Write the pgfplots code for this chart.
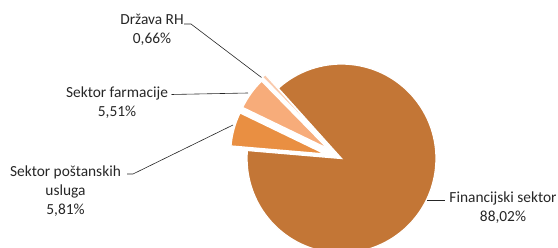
\documentclass[border=0pt]{standalone}
\usepackage{pgfplots}
\usepackage{pgfplotstable}
\pgfplotsset{compat=1.18}
\usepackage{fontspec}
\setmainfont{Carlito}

\definecolor{pc0}{HTML}{C37636}
\definecolor{pc1}{HTML}{E98F42}
\definecolor{pc2}{HTML}{F7AC7A}
\definecolor{pc3}{HTML}{F9CAAC}

% share (%) and explosion offset (px) of each slice, clockwise from the first
\pgfplotstableread[col sep=comma]{
label,value,explode
Financijski sektor,88.02,0
Sektor poštanskih usluga,5.81,17
Sektor farmacije,5.51,17
Država RH,0.66,19
}\piedata

\def\pieR{94.5}
\def\pieCX{341.5}
\def\pieCY{89.5}
\xdef\curang{132}
\pgfplotsinvokeforeach{0,...,3}{%
  \pgfplotstablegetelem{#1}{value}\of\piedata
  \pgfmathsetmacro\val{\pgfplotsretval}%
  \pgfplotstablegetelem{#1}{explode}\of\piedata
  \pgfmathsetmacro\ex{\pgfplotsretval}%
  \pgfmathsetmacro\endang{\curang-3.6*\val}%
  \pgfmathsetmacro\midang{(\curang+\endang)/2}%
  \pgfmathsetmacro\cx{\pieCX+\ex*cos(\midang)}%
  \pgfmathsetmacro\cy{\pieCY+\ex*sin(\midang)}%
  \expandafter\xdef\csname sa#1\endcsname{\curang}%
  \expandafter\xdef\csname ea#1\endcsname{\endang}%
  \expandafter\xdef\csname cx#1\endcsname{\cx}%
  \expandafter\xdef\csname cy#1\endcsname{\cy}%
  \xdef\curang{\endang}%
}

\begin{document}
\begin{tikzpicture}
\begin{axis}[
  scale only axis, width=558bp, height=248bp,
  xmin=0, xmax=558, ymin=0, ymax=248,
  hide axis,
]
\pgfplotsinvokeforeach{0,...,3}{%
  \fill[fill=pc#1, draw=white, line width=1.3pt, line join=miter]
    (axis cs:\csname cx#1\endcsname,\csname cy#1\endcsname)
    -- ++(\csname sa#1\endcsname:\pieR bp)
    arc[start angle=\csname sa#1\endcsname, end angle=\csname ea#1\endcsname, radius=\pieR bp]
    -- cycle;
}
% leader lines
\draw[black!85, line width=0.6pt] (axis cs:184,224) -- (axis cs:191,224) -- (axis cs:261.5,170.5);
\draw[black!85, line width=0.6pt] (axis cs:171.5,153.5) -- (axis cs:248,155);
\draw[black!85, line width=0.6pt] (axis cs:127,74) -- (axis cs:133,74) -- (axis cs:233,123);
\draw[black!85, line width=0.6pt] (axis cs:427,47.5) -- (axis cs:445,47.5);
% labels
\begin{scope}[every node/.style={align=center, inner sep=0pt, text=black!85,
    font=\fontsize{15.4bp}{19bp}\selectfont}]
\node at (axis cs:152,218) {Država RH\\0,66\%};
\node at (axis cs:117,145.5) {Sektor farmacije\\5,51\%};
\node at (axis cs:65.5,57) {Sektor poštanskih\\usluga\\5,81\%};
\node at (axis cs:503,40.5) {Financijski sektor\\88,02\%};
\end{scope}
\coordinate (ll) at (axis cs:0,0);
\coordinate (ur) at (axis cs:558,248);
\end{axis}
\pgfresetboundingbox
\path[use as bounding box] (ll) rectangle (ur);
\end{tikzpicture}
\end{document}
